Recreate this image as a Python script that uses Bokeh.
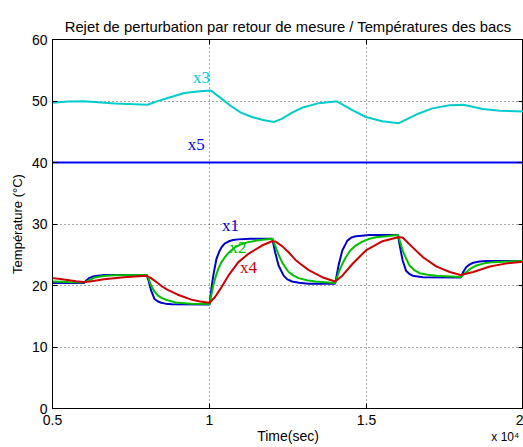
from bokeh.plotting import figure
from bokeh.models import FixedTicker, LinearAxis, Label, Range1d, CustomLabelingPolicy
from bokeh.embed import file_html
from bokeh.resources import INLINE

# ---- data (time in seconds, temperatures in °C) ----
t_x1 = [5000, 6000, 6080, 6160, 6320, 6640, 8000, 8070, 8140, 8250, 8360, 8460, 8600, 8800, 10000,
        10060, 10120, 10220, 10300, 10380, 10480, 10600, 10750, 10920, 11300, 12000,
        12040, 12090, 12200, 12360, 12480, 12630, 12850, 13160, 14000,
        14060, 14120, 14230, 14390, 14520, 14660, 14850, 15090, 16000,
        16030, 16070, 16150, 16260, 16360, 16470, 16800, 18000,
        18080, 18180, 18280, 18400, 18600, 18820, 20000]
x1 = [20.4, 20.4, 20.8, 21.2, 21.5, 21.7, 21.7, 20.6, 19.2, 17.8, 17.4, 17.2, 17.05, 16.95, 16.9,
      19.5, 21.6, 24.3, 25.4, 26.2, 26.8, 27.15, 27.4, 27.5, 27.6, 27.6,
      26.6, 25.4, 23.25, 21.6, 21.0, 20.65, 20.45, 20.3, 20.3,
      21.9, 23.5, 25.7, 27.3, 27.8, 28.0, 28.1, 28.2, 28.2,
      27.3, 26.2, 24.1, 22.4, 21.9, 21.6, 21.35, 21.3,
      22.2, 23.0, 23.4, 23.7, 23.9, 24.0, 24.0]

t_x2 = [5000, 5500, 6000, 6150, 6320, 6600, 7000, 8000, 8070, 8140, 8250, 8350, 8500, 8670, 8920,
        9400, 10000, 10120, 10200, 10280, 10380, 10490, 10640, 10810, 11000, 11240, 11600,
        12000, 12090, 12200, 12310, 12420, 12520, 12680, 12840, 13100, 13370, 14000,
        14120, 14230, 14340, 14480, 14660, 14850, 15090, 15300, 15620, 16000,
        16070, 16150, 16260, 16370, 16520, 16690, 16950, 17220, 18000,
        18180, 18330, 18500, 18750, 19040, 20000]
x2 = [20.65, 20.55, 20.5, 20.8, 21.25, 21.55, 21.65, 21.7, 21.0, 20.0, 19.0, 18.4, 17.9, 17.6, 17.25,
      17.05, 17.0, 20.0, 21.5, 22.7, 23.8, 24.6, 25.5, 26.2, 26.7, 27.05, 27.4,
      27.6, 26.5, 25.0, 23.8, 22.9, 22.2, 21.6, 21.2, 20.85, 20.65, 20.4,
      22.2, 23.5, 24.6, 25.7, 26.5, 27.1, 27.6, 27.85, 28.0, 28.2,
      27.1, 25.7, 24.4, 23.25, 22.5, 22.0, 21.75, 21.6, 21.4,
      22.2, 22.8, 23.25, 23.6, 23.8, 24.0]

t_x4 = [5000, 5250, 5470, 5750, 6000, 6200, 6640, 7280, 7980, 8140, 8350, 8500, 8670, 8990, 9420,
        9700, 10000, 10170, 10380, 10600, 10920, 11240, 11670, 11990, 12100, 12310, 12520,
        12730, 12900, 13160, 13590, 14000, 14230, 14550, 14980, 15510, 16000, 16150,
        16470, 16800, 17220, 17650, 18000, 18400, 18930, 19470, 20000]
x4 = [21.2, 21.05, 20.9, 20.7, 20.55, 20.65, 21.0, 21.35, 21.6, 21.2, 20.4, 19.8, 19.3, 18.5, 17.7,
      17.4, 17.2, 18.1, 19.7, 21.6, 23.8, 25.15, 26.5, 27.2, 27.15, 26.4, 25.4,
      24.2, 23.5, 22.5, 21.35, 20.65, 21.6, 23.5, 25.7, 27.2, 27.85, 27.8,
      26.2, 24.6, 23.1, 22.2, 21.7, 22.2, 23.1, 23.6, 23.85]

t_x3 = [5000, 5500, 6000, 7000, 8030, 8300, 8670, 9200, 9700, 10040, 10400, 10700, 11000, 11350,
        11700, 12050, 12300, 12630, 12950, 13480, 14000, 14070, 14550, 14980, 15500, 16030,
        16580, 17100, 17650, 18080, 18700, 19250, 20000]
x3 = [49.7, 49.9, 49.97, 49.6, 49.4, 49.9, 50.5, 51.3, 51.6, 51.7, 50.3, 49.1, 48.1, 47.4,
      46.9, 46.6, 47.1, 48.1, 48.9, 49.65, 49.9, 49.9, 48.5, 47.4, 46.7, 46.4,
      47.8, 48.8, 49.3, 49.4, 48.7, 48.4, 48.3]

t_x5 = [5000, 20000]
x5 = [40.0, 40.0]

x_ticks = [5000, 10000, 15000, 20000]
x_tick_labels = ["0.5", "1", "1.5", "2"]
y_ticks = [0, 10, 20, 30, 40, 50, 60]
x_exponent_text = "x 10⁴"
x_exponent_pos = [19420]

series_names = ["x1", "x2", "x3", "x4", "x5"]
label_t = [10667, 10907, 9744, 11240, 9577]
label_y = [29.7, 26.1, 53.8, 23.0, 42.9]

colors = {"x1": "#0000cc", "x2": "#00c000", "x3": "#00cccc", "x4": "#cc0000", "x5": "#0000ff"}

p = figure(width=523, height=447, output_backend="svg", toolbar_location=None,
           x_range=Range1d(5000, 20000), y_range=Range1d(0, 60),
           min_border_left=52, min_border_right=0, min_border_top=39, min_border_bottom=39,
           background_fill_color="white", border_fill_color="white")

p.title.text = "Rejet de perturbation par retour de mesure / Températures des bacs"
p.title.align = "center"
p.title.text_font = "Liberation Sans"
p.title.text_font_style = "normal"
p.title.text_font_size = "14.8px"
p.title.text_color = "black"
p.title.standoff = 10

p.outline_line_color = "black"
p.outline_line_width = 1

# axes
for ax in p.xaxis:
    ax.ticker = FixedTicker(ticks=x_ticks)
    ax.major_label_overrides = {k: v for k, v in zip(x_ticks, x_tick_labels)}
    ax.axis_label = "Time(sec)"
    ax.axis_label_text_font_size = "14px"
for ax in p.yaxis:
    ax.ticker = FixedTicker(ticks=y_ticks)
    ax.axis_label = "Température (°C)"
    ax.axis_label_text_font_size = "13px"

for ax in p.axis:
    ax.major_tick_in = 5
    ax.major_tick_out = 0
    ax.minor_tick_line_color = None
    ax.axis_line_color = "black"
    ax.major_tick_line_color = "black"
    ax.major_label_text_font = "Liberation Sans"
    ax.major_label_text_font_size = "14px"
    ax.major_label_text_color = "black"
    ax.axis_label_text_font = "Liberation Sans"
    ax.axis_label_text_font_style = "normal"
    ax.axis_label_text_color = "black"
p.xaxis.major_label_standoff = 6
p.xaxis.axis_label_standoff = 0
p.yaxis.major_label_standoff = 5
p.yaxis.axis_label_standoff = 4

# box ticks on top/right, without labels
no_labels = CustomLabelingPolicy(code="""
    for (const i of indices) indices.unset(i)
    return indices
""")
top = LinearAxis(ticker=FixedTicker(ticks=x_ticks), major_label_policy=no_labels,
                 major_label_text_font_size="0px",
                 major_tick_in=5, major_tick_out=0, minor_tick_line_color=None,
                 major_label_standoff=6, axis_line_color="black")
right = LinearAxis(ticker=FixedTicker(ticks=y_ticks), major_label_policy=no_labels,
                   major_label_text_font_size="0px",
                   major_tick_in=5, major_tick_out=0, minor_tick_line_color=None,
                   major_label_standoff=0, axis_line_color="black")
p.add_layout(top, "above")
p.add_layout(right, "right")

# exponent note "x 10^4" on the row of the x-axis title
expo = LinearAxis(ticker=FixedTicker(ticks=x_exponent_pos),
                  major_label_overrides={x_exponent_pos[0]: x_exponent_text},
                  major_label_text_font="Liberation Sans", major_label_text_font_size="12px",
                  major_label_text_color="black", major_label_standoff=-17,
                  major_tick_line_color=None, minor_tick_line_color=None,
                  major_tick_in=0, major_tick_out=0, axis_line_color=None)
p.add_layout(expo, "below")

# grid
p.xgrid.ticker = FixedTicker(ticks=x_ticks)
p.ygrid.ticker = FixedTicker(ticks=y_ticks)
for g in (p.xgrid, p.ygrid):
    g.grid_line_color = "black"
    g.grid_line_alpha = 0.7
    g.grid_line_dash = "1 3"
    g.grid_line_width = 1

# lines
p.line(t_x3, x3, line_color=colors["x3"], line_width=2)
p.line(t_x5, x5, line_color=colors["x5"], line_width=2)
p.line(t_x1, x1, line_color=colors["x1"], line_width=2)
p.line(t_x2, x2, line_color=colors["x2"], line_width=2)
p.line(t_x4, x4, line_color=colors["x4"], line_width=2)

for name, lt, ly in zip(series_names, label_t, label_y):
    p.add_layout(Label(x=lt, y=ly, text=name, text_color=colors[name],
                       text_font="Liberation Serif", text_font_size="17px",
                       text_align="center", text_baseline="alphabetic"))

open("out.html", "w").write(file_html(p, INLINE))
